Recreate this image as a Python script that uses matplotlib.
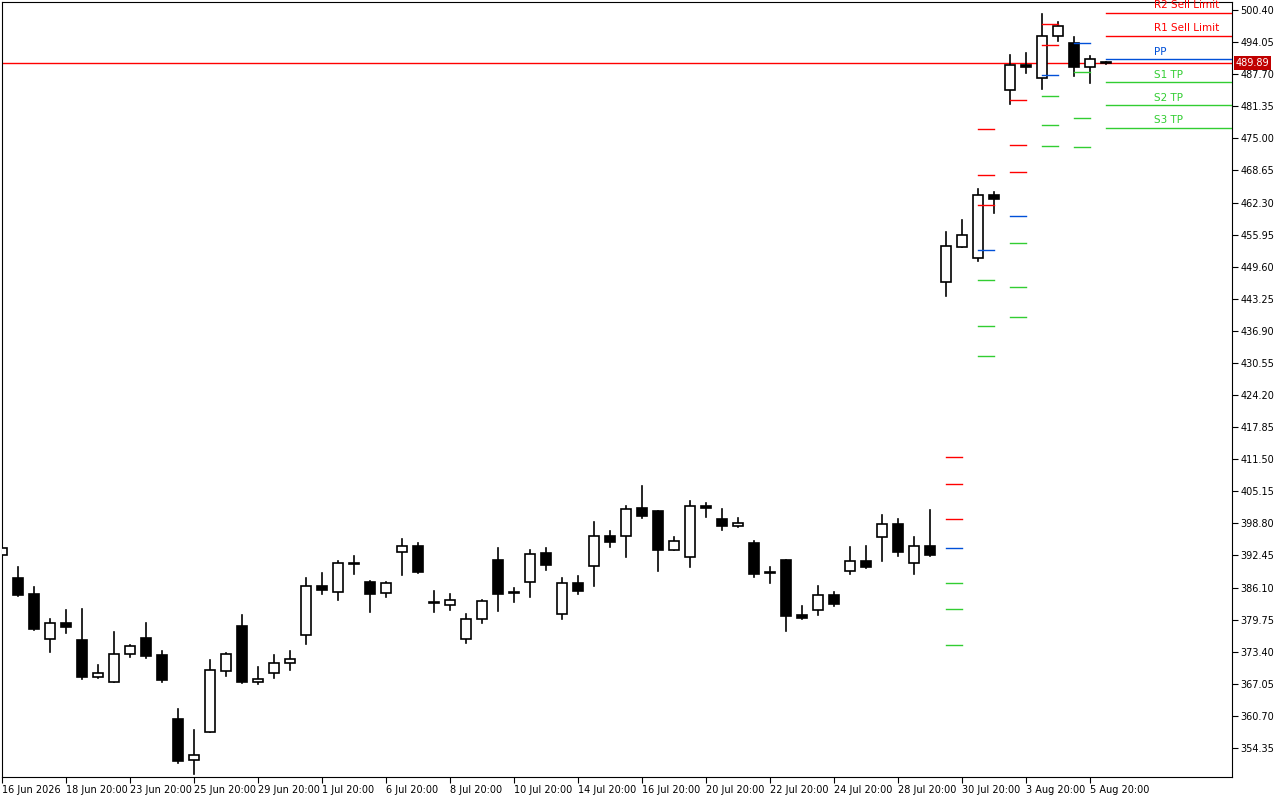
import matplotlib
matplotlib.use("Agg")
import matplotlib.pyplot as plt
from matplotlib.patches import Rectangle

opens  = [392.55,387.94,384.77,375.86,379.03,375.66,368.33,367.34,372.89,376.06,372.69,360.02,351.90,357.44,369.52,378.43,367.34,369.13,371.11,376.65,
          386.35,385.16,390.75,387.14,384.97,393.08,394.27,383.00,382.59,375.86,379.82,391.50,385.00,387.14,392.89,380.81,386.95,390.31,396.25,396.25,
          401.80,401.20,393.48,392.09,402.19,399.62,398.23,394.87,388.95,391.50,380.61,381.60,384.57,389.32,391.30,396.05,398.63,390.91,394.27,446.54,
          453.47,451.30,463.77,484.56,489.51,486.94,495.25,493.87,489.11,490.00]
highs  = [394.13,390.11,386.15,379.82,381.60,381.80,370.71,377.24,374.67,379.03,373.48,362.00,357.84,371.70,373.09,380.61,370.31,372.69,373.48,387.94,
          388.93,391.30,392.29,387.34,387.14,395.66,394.87,385.36,384.77,380.81,383.58,393.88,385.96,393.48,393.88,387.94,388.33,399.02,397.24,402.19,
          406.15,401.20,396.05,403.18,402.79,401.60,399.82,395.26,390.11,391.50,382.39,386.35,385.16,394.07,394.27,400.41,399.62,396.05,401.40,456.44,
          458.82,464.96,464.36,491.49,491.88,499.61,498.02,495.05,491.29,490.20]
lows   = [392.35,384.37,377.64,373.28,377.05,367.94,368.14,367.34,372.29,372.10,367.34,351.31,349.13,357.44,368.53,367.14,366.95,368.14,369.72,374.87,
          384.77,383.58,388.73,381.20,384.17,388.53,388.93,381.20,381.60,375.07,379.03,381.40,383.18,384.17,389.52,379.82,384.77,386.35,394.07,392.09,
          399.82,389.32,393.48,390.11,400.01,397.44,398.03,388.13,386.95,377.44,379.82,380.61,382.39,388.73,389.92,391.30,392.29,388.73,392.29,443.77,
          453.47,450.70,460.20,481.79,487.93,484.76,494.26,487.33,485.95,489.70]
closes = [393.93,384.57,377.84,379.03,378.23,368.33,369.13,372.89,374.47,372.49,367.74,351.70,352.89,369.72,372.89,367.34,367.94,371.11,371.90,386.35,
          385.56,390.91,390.70,384.77,386.95,394.27,389.12,382.95,383.58,379.82,383.38,384.77,384.95,392.69,390.51,386.95,385.36,396.25,395.06,401.60,
          400.21,393.48,395.26,402.19,401.80,398.21,398.83,388.73,388.90,380.41,380.02,384.57,382.79,391.30,390.11,398.63,393.08,394.27,392.49,453.67,
          455.85,463.77,462.98,489.51,489.11,495.25,497.23,489.11,490.69,489.89]

x_labels = ["16 Jun 2026","18 Jun 20:00","23 Jun 20:00","25 Jun 20:00","29 Jun 20:00","1 Jul 20:00","6 Jul 20:00","8 Jul 20:00",
            "10 Jul 20:00","14 Jul 20:00","16 Jul 20:00","20 Jul 20:00","22 Jul 20:00","24 Jul 20:00","28 Jul 20:00","30 Jul 20:00",
            "3 Aug 20:00","5 Aug 20:00"]
y_ticks = [500.40,494.05,487.70,481.35,475.00,468.65,462.30,455.95,449.60,443.25,436.90,430.55,424.20,417.85,411.50,405.15,
           398.80,392.45,386.10,379.75,373.40,367.05,360.70,354.35]

# pivot groups: (start index, levels, level kinds)
pivot_starts = [59, 61, 63, 65, 67]
pivot_levels = [
    [411.89, 406.54, 399.62, 393.88, 386.95, 381.80, 374.67],
    [476.84, 467.73, 461.79, 452.88, 446.94, 437.83, 431.89],
    [482.58, 473.67, 468.32, 459.61, 454.26, 445.55, 439.61],
    [497.63, 493.47, 487.53, 483.37, 477.63, 473.47],
    [493.87, 488.13, 479.02, 473.28],
]
pivot_kinds = [
    ["R","R","R","P","S","S","S"],
    ["R","R","R","P","S","S","S"],
    ["R","R","R","P","S","S","S"],
    ["R","R","P","S","S","S"],
    ["P","S","S","S"],
]
cur_names  = ["R2 Sell Limit","R1 Sell Limit","PP","S1 TP","S2 TP","S3 TP"]
cur_levels = [499.81, 495.25, 490.69, 486.14, 481.59, 477.04]
cur_kinds  = ["R","R","P","S","S","S"]
current_price = 489.89

RED, BLUE, GREEN = "#ff0000", "#0050d8", "#32cd32"
kc = {"R": RED, "P": BLUE, "S": GREEN}

fig = plt.figure(figsize=(12.8, 8), dpi=100)
ax = fig.add_axes([2/1280, 23/800, 1230/1280, 775/800])
ax.set_xlim(0, 76.875)
ax.set_ylim(348.61, 501.98)

w = 0.62
for i, (o, h, l, c) in enumerate(zip(opens, highs, lows, closes)):
    ax.plot([i, i], [l, h], color="black", lw=1.2, zorder=2)
    bot, top = min(o, c), max(o, c)
    face = "white" if c >= o else "black"
    ht = max(top - bot, 0.25)
    ax.add_patch(Rectangle((i - w/2, bot), w, ht, facecolor=face, edgecolor="black", lw=1.2, zorder=3))

for s, lv, kd in zip(pivot_starts, pivot_levels, pivot_kinds):
    for v, k in zip(lv, kd):
        ax.plot([s, s + 1], [v, v], color=kc[k], lw=1, zorder=4)

for n, v, k in zip(cur_names, cur_levels, cur_kinds):
    ax.plot([69, 76.875], [v, v], color=kc[k], lw=1, zorder=4)
    ax.text(72, v + 0.5, n, color=kc[k], fontsize=7.5, va="bottom", ha="left")

ax.axhline(current_price, color=RED, lw=1, zorder=1)

ax.yaxis.tick_right()
ax.set_yticks(y_ticks)
ax.set_yticklabels([f"{t:.2f}" for t in y_ticks], fontsize=7)
ax.set_xticks(range(0, 69, 4))
ax.set_xticklabels(x_labels, fontsize=7, ha="left")
ax.tick_params(axis="both", length=4, pad=2, color="black")
ax.text(1.003, current_price, f"{current_price:.2f}", transform=ax.get_yaxis_transform(),
        fontsize=7, color="white", va="center", ha="left",
        bbox=dict(boxstyle="square,pad=0.2", facecolor="#c00000", edgecolor="none"))
for sp in ax.spines.values():
    sp.set_linewidth(0.8)

fig.savefig("out.png", dpi=100)
